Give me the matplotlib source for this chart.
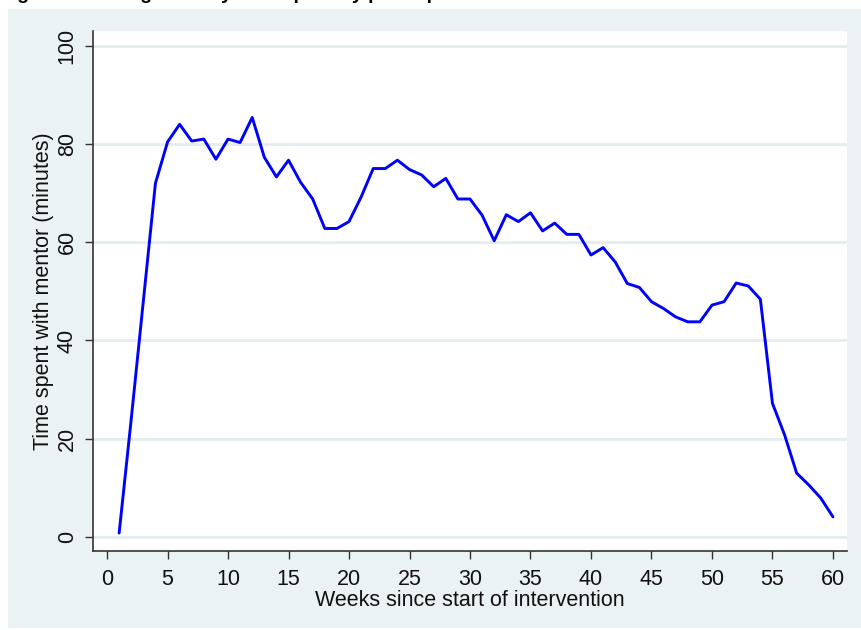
import numpy as np
import matplotlib
matplotlib.use("Agg")
import matplotlib.pyplot as plt
from matplotlib.patches import Rectangle

plt.rcParams['font.family'] = ['Liberation Sans', 'DejaVu Sans']

# average minutes with mentor, weeks 1..60
weeks = list(range(1, 61))
minutes = [0.8, 24.0, 48.0, 72.0, 80.4, 84.0, 80.6, 81.0, 76.9, 81.0,
           80.3, 85.4, 77.3, 73.3, 76.7, 72.2, 68.8, 62.8, 62.8, 64.2,
           69.2, 75.0, 75.0, 76.7, 74.8, 73.7, 71.3, 73.0, 68.8, 68.8,
           65.5, 60.3, 65.6, 64.2, 66.0, 62.3, 63.9, 61.6, 61.6, 57.4,
           58.9, 56.0, 51.6, 50.8, 47.9, 46.5, 44.8, 43.8, 43.8, 47.2,
           47.9, 51.7, 51.1, 48.4, 27.2, 20.8, 13.0, 10.6, 7.9, 4.1]

xticks = list(range(0, 61, 5))
yticks = list(range(0, 101, 20))

bg = '#EAF2F3'
grid_col = '#E3ECEF'
fs = 15.5

fig = plt.figure(figsize=(8.61, 6.30), dpi=100)
fig.patch.set_facecolor('white')

# stata-style outer panel
fig.patches.append(Rectangle((8 / 861, 2 / 630), 1 - 8 / 861, 619 / 630,
                             transform=fig.transFigure, facecolor=bg,
                             edgecolor='none', zorder=0))

# caption sitting above the graph (only its lower edge fits on the page)
fig.text(0.0, 1 + 1.0 / 630, 'Figure 2: Average weekly time spent by participants',
         fontsize=14, fontweight='bold', ha='left', va='baseline', color='black')

ax = fig.add_axes([93 / 861, 79 / 630, 754 / 861, 520 / 630])
ax.set_zorder(2)
ax.set_facecolor('white')

ax.plot(weeks, minutes, color='#0000FF', lw=2.1, solid_joinstyle='round',
        solid_capstyle='round', zorder=3)

ax.set_xlim(-1.16, 61.16)
ax.set_ylim(-2.85, 103.0)
ax.set_xticks(xticks)
ax.set_yticks(yticks)
ax.set_yticklabels([str(v) for v in yticks], rotation=90, va='center')

ax.yaxis.grid(True, color=grid_col, lw=2.0)
ax.xaxis.grid(False)
ax.set_axisbelow(True)

for s in ['top', 'right']:
    ax.spines[s].set_visible(False)
for s in ['left', 'bottom']:
    ax.spines[s].set_color('#333333')
    ax.spines[s].set_linewidth(1.2)

ax.tick_params(axis='both', direction='out', length=6, width=1.0,
               color='#333333', labelsize=fs, labelcolor='#111111', pad=7)
ax.tick_params(axis='y', pad=5)

ax.set_xlabel('Weeks since start of intervention', fontsize=fs, labelpad=0,
              color='#111111')
ax.set_ylabel('Time spent with mentor (minutes)', fontsize=fs, labelpad=2,
              color='#111111')

fig.savefig('out.png', dpi=100, facecolor=fig.get_facecolor())
